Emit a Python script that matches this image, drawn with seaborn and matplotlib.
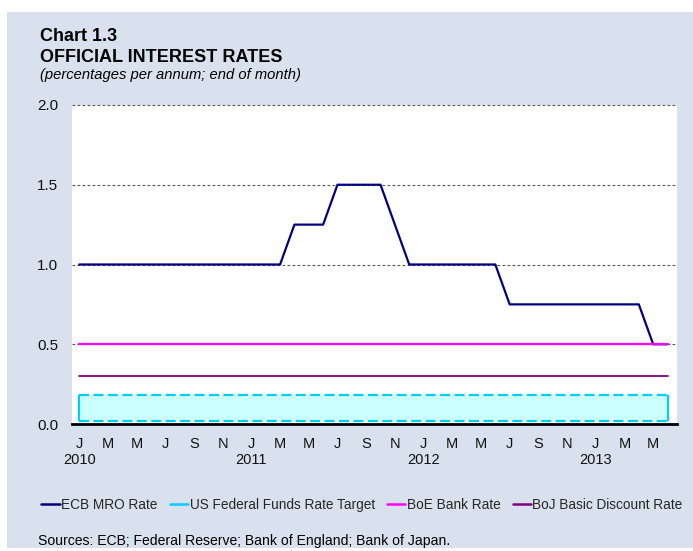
import matplotlib
matplotlib.use("Agg")
import matplotlib.pyplot as plt
import seaborn as sns
import pandas as pd
from matplotlib.lines import Line2D
from matplotlib.patches import Rectangle

# ---------------- data ----------------
month_labels = ["J", "F", "M", "A", "M", "J", "J", "A", "S", "O", "N", "D"]
years = [2010, 2011, 2012, 2013]
n_months = 42  # Jan 2010 .. Jun 2013

ecb_mro = [1.00, 1.00, 1.00, 1.00, 1.00, 1.00, 1.00, 1.00, 1.00, 1.00, 1.00, 1.00,   # 2010
           1.00, 1.00, 1.00, 1.25, 1.25, 1.25, 1.50, 1.50, 1.50, 1.50, 1.25, 1.00,   # 2011
           1.00, 1.00, 1.00, 1.00, 1.00, 1.00, 0.75, 0.75, 0.75, 0.75, 0.75, 0.75,   # 2012
           0.75, 0.75, 0.75, 0.75, 0.50, 0.50]                                      # 2013
fed_low = [0.02] * 42
fed_high = [0.18] * 42
boe_rate = [0.50] * 42
boj_rate = [0.30] * 42

series_names = ["ECB MRO Rate", "US Federal Funds Rate Target", "BoE Bank Rate", "BoJ Basic Discount Rate"]
series_colors = ["#000080", "#00ccff", "#ff00ff", "#800080"]

month_idx = list(range(n_months))
df = pd.DataFrame({"m": month_idx, "ecb": ecb_mro, "fed_low": fed_low, "fed_high": fed_high,
                   "boe": boe_rate, "boj": boj_rate})

# ---------------- style ----------------
sns.set_theme(style="white")
plt.rcParams["font.family"] = ["Liberation Sans", "DejaVu Sans"]

BG = "#dae1ee"
fig = plt.figure(figsize=(6.93, 5.51), dpi=100)
fig.patch.set_facecolor("white")
fig.add_artist(Rectangle((7 / 693, 0.006), 1 - 7 / 693, (551 - 12) / 551 - 0.006,
                         transform=fig.transFigure, facecolor=BG, edgecolor="none", zorder=-10))

ax = fig.add_axes([72 / 693, (551 - 424) / 551, (677 - 72) / 693, (424 - 105) / 551])
ax.set_facecolor("white")

# Fed band
fed_dash = (0, (4.5, 2.0))
ax.fill_between(df["m"], df["fed_low"], df["fed_high"], color="#ccffff", lw=0, zorder=1)
sns.lineplot(data=df, x="m", y="fed_high", ax=ax, color=series_colors[1], lw=1.6,
             linestyle=fed_dash, zorder=2)
sns.lineplot(data=df, x="m", y="fed_low", ax=ax, color=series_colors[1], lw=1.6,
             linestyle=fed_dash, zorder=2)
ax.vlines([df["m"].iloc[0], df["m"].iloc[-1]], fed_low[0], fed_high[0], color=series_colors[1],
          lw=1.6, zorder=2)

sns.lineplot(data=df, x="m", y="boj", ax=ax, color=series_colors[3], lw=1.3, zorder=3)
sns.lineplot(data=df, x="m", y="ecb", ax=ax, color=series_colors[0], lw=1.6, zorder=4)
sns.lineplot(data=df, x="m", y="boe", ax=ax, color=series_colors[2], lw=1.6, zorder=5)

ax.set_xlim(-0.5, 41.66)
ax.set_ylim(0, 2.0)
ax.set_yticks([0.0, 0.5, 1.0, 1.5, 2.0])
ax.set_yticklabels([f"{v:.1f}" for v in [0.0, 0.5, 1.0, 1.5, 2.0]], fontsize=11, color="#111111")

xt = list(range(0, n_months, 2))
xl = []
for i in xt:
    lab = month_labels[i % 12]
    if i % 12 == 0:
        lab = lab + "\n" + str(years[i // 12])
    xl.append(lab)
ax.set_xticks(xt)
ax.set_xticklabels(xl, fontsize=10.5, color="#111111", linespacing=1.25, va="top")
ax.tick_params(axis="x", length=0, pad=9)
ax.tick_params(axis="y", length=0, pad=10)

for v in [0.5, 1.0, 1.5, 2.0]:
    ax.axhline(v, color="#555555", lw=0.8, linestyle=(0, (2.5, 2)), zorder=0.5, clip_on=False)

for s in ["top", "right", "left"]:
    ax.spines[s].set_visible(False)
ax.spines["bottom"].set_color("black")
ax.spines["bottom"].set_linewidth(2.0)
ax.spines["bottom"].set_zorder(6)
ax.set_xlabel("")
ax.set_ylabel("")

# titles
fig.text(40 / 693, 1 - 41 / 551, "Chart 1.3", fontsize=13, fontweight="bold", color="black", va="baseline")
fig.text(40 / 693, 1 - 62 / 551, "OFFICIAL INTEREST RATES", fontsize=13, fontweight="bold",
         color="black", va="baseline")
fig.text(40 / 693, 1 - 79 / 551, "(percentages per annum; end of month)", fontsize=10.6,
         style="italic", color="black", va="baseline")

handles = [Line2D([0], [0], color=c, lw=1.8) for c in series_colors]
fig.legend(handles, series_names, loc="center", bbox_to_anchor=(362 / 693, 1 - 505 / 551), ncol=4,
           frameon=False, fontsize=9.8, handlelength=1.35, handletextpad=0.1, columnspacing=0.9,
           borderpad=0, borderaxespad=0)

fig.text(38 / 693, 1 - 545 / 551, "Sources: ECB; Federal Reserve; Bank of England; Bank of Japan.",
         fontsize=10.1, color="black", va="baseline")

fig.savefig("out.png", dpi=100, facecolor=fig.get_facecolor())
